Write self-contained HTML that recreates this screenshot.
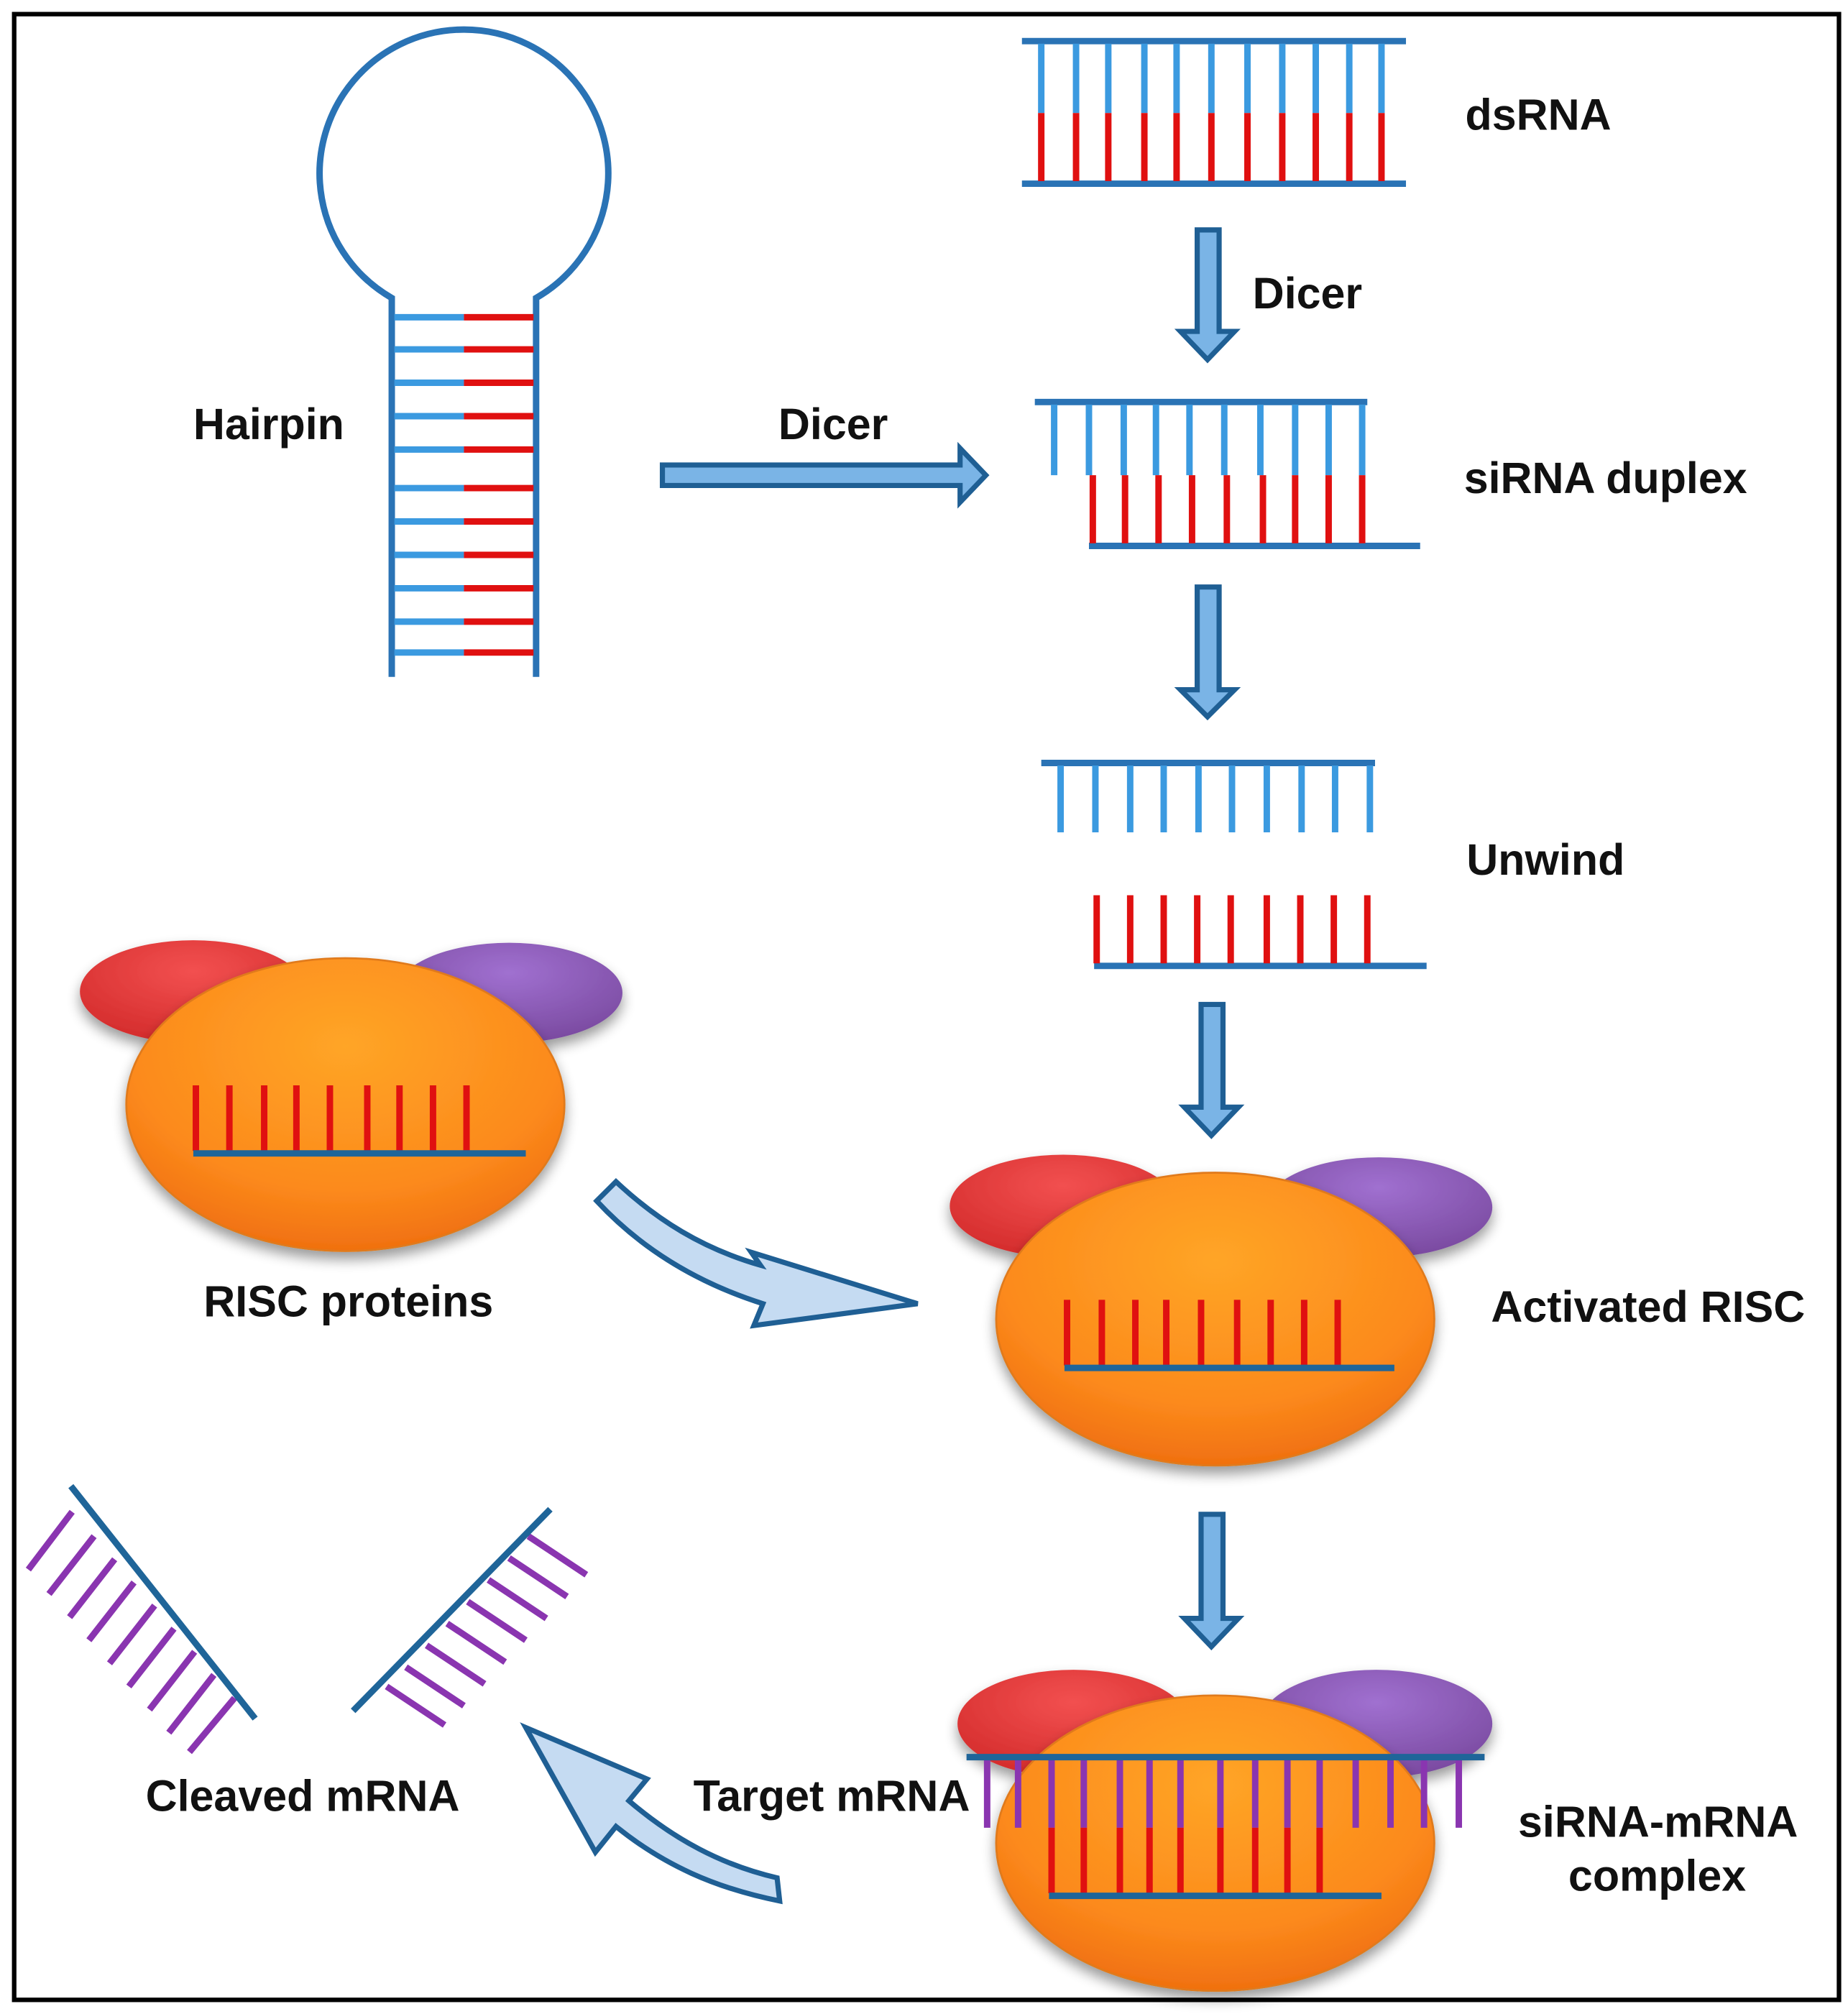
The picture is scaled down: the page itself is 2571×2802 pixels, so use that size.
<!DOCTYPE html>
<html><head><meta charset="utf-8"><style>
html,body{margin:0;padding:0;background:#fff}
svg{display:block}
text{font-family:"Liberation Sans",Arial,sans-serif;font-weight:bold;font-size:34px;fill:#111}
</style></head><body>
<svg width="2571" height="2802" viewBox="0 0 1434 1568" preserveAspectRatio="none" xmlns="http://www.w3.org/2000/svg">
<defs>
<radialGradient id="og" cx="50%" cy="30%" r="70%"><stop offset="0" stop-color="#ffa526"/><stop offset="0.7" stop-color="#fc8a1c"/><stop offset="1" stop-color="#f07010"/></radialGradient>
<radialGradient id="rg" cx="50%" cy="30%" r="70%"><stop offset="0" stop-color="#f25050"/><stop offset="1" stop-color="#d42c2c"/></radialGradient>
<radialGradient id="pg" cx="50%" cy="30%" r="70%"><stop offset="0" stop-color="#a070d0"/><stop offset="1" stop-color="#7a4aa0"/></radialGradient>
<filter id="sh" x="-20%" y="-20%" width="140%" height="150%"><feGaussianBlur in="SourceAlpha" stdDeviation="5"/><feOffset dy="6"/><feComponentTransfer><feFuncA type="linear" slope="0.4"/></feComponentTransfer><feMerge><feMergeNode/><feMergeNode in="SourceGraphic"/></feMerge></filter>
<g id="risc">
<ellipse cx="-118" cy="-88" rx="88" ry="40" fill="url(#rg)" filter="url(#sh)"/>
<ellipse cx="127" cy="-87" rx="88" ry="39" fill="url(#pg)" filter="url(#sh)"/>
<ellipse cx="0" cy="0" rx="170" ry="114" fill="url(#og)" filter="url(#sh)" stroke="#e07a1a" stroke-width="1.5"/>
</g>
</defs>
<rect x="11" y="11" width="1416" height="1546" fill="#fff" stroke="#000" stroke-width="3.5"/>

<g stroke-width="5" fill="none">
<path d="M304,527 V232 A112,112 0 1 1 416,232 V527" stroke="#2a73b5"/>
<g stroke="#3b9ae0">
<path d="M306,247H360M306,272H360M306,298H360M306,324H360M306,350H360M306,380H360M306,406H360M306,432H360M306,458H360M306,484H360M306,508H360"/>
</g>
<g stroke="#e01010">
<path d="M360,247H414M360,272H414M360,298H414M360,324H414M360,350H414M360,380H414M360,406H414M360,432H414M360,458H414M360,484H414M360,508H414"/>
</g>
</g>

<g stroke-width="5">
<path d="M793,32H1091M793,143H1091" stroke="#2a73b5"/>
<path d="M808,34V88M835,34V88M860,34V88M888,34V88M913,34V88M940,34V88M968,34V88M995,34V88M1021,34V88M1047,34V88M1072,34V88" stroke="#3b9ae0"/>
<path d="M808,88V141M835,88V141M860,88V141M888,88V141M913,88V141M940,88V141M968,88V141M995,88V141M1021,88V141M1047,88V141M1072,88V141" stroke="#e01010"/>
</g>

<g stroke-width="5">
<path d="M803,313H1061M845,425H1102" stroke="#2a73b5"/>
<path d="M818,315V370M845,315V370M872,315V370M897,315V370M923,315V370M950,315V370M978,315V370M1005,315V370M1031,315V370M1057,315V370" stroke="#3b9ae0"/>
<path d="M848,370V423M873,370V423M899,370V423M925,370V423M952,370V423M980,370V423M1005,370V423M1031,370V423M1057,370V423" stroke="#e01010"/>
</g>

<g stroke-width="5">
<path d="M808,594H1067M849,752H1107" stroke="#2a73b5"/>
<path d="M823,596V648M850,596V648M877,596V648M903,596V648M930,596V648M956,596V648M983,596V648M1010,596V648M1036,596V648M1063,596V648" stroke="#3b9ae0"/>
<path d="M851,697V750M877,697V750M903,697V750M929,697V750M955,697V750M983,697V750M1009,697V750M1035,697V750M1061,697V750" stroke="#e01010"/>
</g>

<g fill="#7ab4e6" stroke="#1f5f94" stroke-width="4" stroke-linejoin="miter">
<path d="M929,179H946V258H958L937,280L916,258H929Z"/>
<path d="M929,457H946V537H958L937,558L916,537H929Z"/>
<path d="M932,782H949V862H961L940,884L919,862H932Z"/>
<path d="M932,1179H949V1260H961L940,1282L919,1260H932Z"/>
<path d="M514,362H745V349L765,370L745,391V378H514Z"/>
</g>

<use href="#risc" x="268" y="860"/>
<g stroke-width="5">
<path d="M152,845V896M178,845V896M205,845V896M230,845V896M256,845V896M285,845V896M310,845V896M336,845V896M362,845V896" stroke="#e01010"/>
<path d="M150,898H408" stroke="#1f6599"/>
</g>

<use href="#risc" x="943" y="1027"/>
<g stroke-width="5">
<path d="M828,1012V1063M855,1012V1063M881,1012V1063M905,1012V1063M932,1012V1063M960,1012V1063M986,1012V1063M1012,1012V1063M1038,1012V1063" stroke="#e01010"/>
<path d="M826,1065H1082" stroke="#1f6599"/>
</g>

<g transform="translate(943,1435)">
<ellipse cx="-110" cy="-93" rx="90" ry="42" fill="url(#rg)" filter="url(#sh)"/>
<ellipse cx="125" cy="-93" rx="90" ry="42" fill="url(#pg)" filter="url(#sh)"/>
<ellipse cx="0" cy="0" rx="170" ry="115" fill="url(#og)" filter="url(#sh)" stroke="#e07a1a" stroke-width="1.5"/>
</g>
<g stroke-width="5">
<path d="M766,1370V1423M790,1370V1423M816,1370V1423M841,1370V1423M869,1370V1423M892,1370V1423M916,1370V1423M947,1370V1423M974,1370V1423M999,1370V1423M1024,1370V1423M1052,1370V1423M1079,1370V1423M1105,1370V1423M1132,1370V1423" stroke="#8a35b0"/>
<path d="M816,1423V1474M841,1423V1474M869,1423V1474M892,1423V1474M916,1423V1474M947,1423V1474M974,1423V1474M999,1423V1474M1024,1423V1474" stroke="#e01010"/>
<path d="M750,1368H1152M814,1476H1072" stroke="#1f6599"/>
</g>

<g stroke-width="5" stroke-linecap="butt">
<path d="M56,1177L22,1222M73,1196L38,1241M89,1214L54,1259M104,1232L69,1277M120,1250L85,1295M135,1268L100,1313M151,1286L116,1331M166,1304L131,1349M182,1322L147,1364" stroke="#8a35b0"/>
<path d="M55,1157L198,1338" stroke="#1f6599"/>
<path d="M410,1196L455,1226M395,1213L440,1243M379,1230L424,1260M363,1247L408,1277M347,1264L392,1294M331,1281L376,1311M315,1298L360,1328M300,1313L345,1343" stroke="#8a35b0"/>
<path d="M427,1175L274,1332" stroke="#1f6599"/>
</g>

<g fill="#c5dbf2" stroke="#1f5f94" stroke-width="4" stroke-linejoin="miter">
<path d="M463,935L478,920C510,950 545,972 590,985L583,975L712,1015L585,1032L592,1015C545,1000 500,975 463,935Z"/>
<path d="M603,1462L605,1480C555,1470 515,1452 478,1422L462,1442L408,1345L502,1385L488,1402C523,1432 560,1452 603,1462Z"/>
</g>

<text x="1137" y="101">dsRNA</text>
<text x="972" y="240">Dicer</text>
<text x="150" y="342">Hairpin</text>
<text x="604" y="342">Dicer</text>
<text x="1136" y="384">siRNA duplex</text>
<text x="1138" y="681">Unwind</text>
<text x="158" y="1025">RISC proteins</text>
<text x="1157" y="1029">Activated RISC</text>
<text x="113" y="1410">Cleaved mRNA</text>
<text x="538" y="1410">Target mRNA</text>
<text x="1178" y="1430">siRNA-mRNA</text>
<text x="1217" y="1472">complex</text>
</svg>
</body></html>
